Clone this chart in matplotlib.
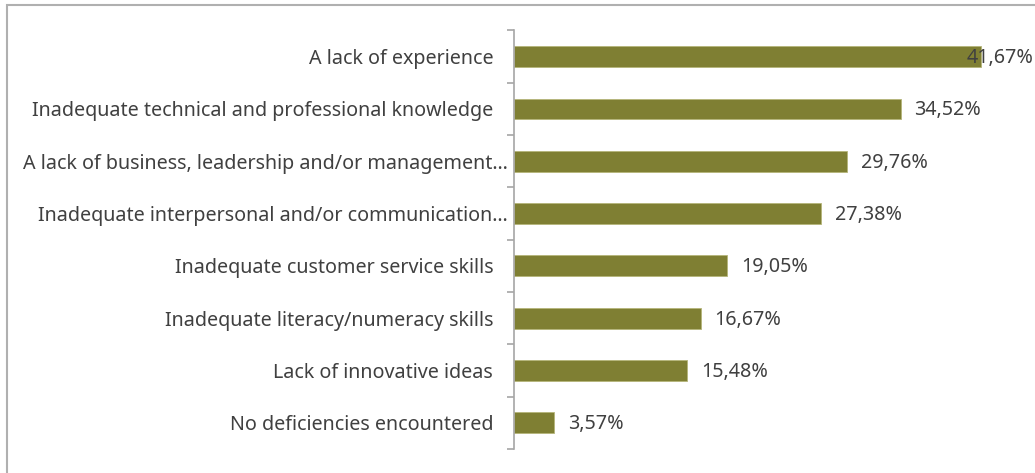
import matplotlib
matplotlib.use("Agg")
import matplotlib.pyplot as plt
from matplotlib.patches import Rectangle
from matplotlib.transforms import ScaledTranslation

categories = [
    "A lack of experience",
    "Inadequate technical and professional knowledge",
    "A lack of business, leadership and/or management\u2026",
    "Inadequate interpersonal and/or communication\u2026",
    "Inadequate customer service skills",
    "Inadequate literacy/numeracy skills",
    "Lack of innovative ideas",
    "No deficiencies encountered",
]
values = [41.67, 34.52, 29.76, 27.38, 19.05, 16.67, 15.48, 3.57]
value_labels = ["41,67%", "34,52%", "29,76%", "27,38%", "19,05%", "16,67%", "15,48%", "3,57%"]

BAR_COLOR = "#7f7f33"
TEXT_COLOR = "#404040"
AXIS_COLOR = "#a6a6a6"
FONT_SIZE = 14.2

plt.rcParams["font.family"] = ["Noto Sans", "DejaVu Sans"]

W, H, DPI = 1035, 473, 100
fig = plt.figure(figsize=(W / DPI, H / DPI), dpi=DPI)

left = 514 / W
right = 1035 / W
top = 1 - 30.5 / H
bottom = 1 - 449 / H
ax = fig.add_axes([left, bottom, right - left, top - bottom])

y = list(range(len(categories)))
ax.barh(y, values, height=0.4, color=BAR_COLOR, edgecolor="#b5b57a", linewidth=0.6)

ax.set_ylim(len(categories) - 0.5, -0.5)
ax.set_xlim(0, 521 / 11.2)

ax.set_yticks(y)
ax.set_yticklabels(categories, fontsize=FONT_SIZE, color=TEXT_COLOR)
ax.tick_params(axis="y", which="major", length=0, pad=15)
ax.set_yticks([i - 0.5 for i in range(len(categories) + 1)], minor=True)
ax.tick_params(axis="y", which="minor", length=5, width=1.2, color=AXIS_COLOR, direction="out")
ax.set_xticks([])

# truncated category names run closer to the axis
for lbl in ax.get_yticklabels():
    if lbl.get_text().endswith("\u2026"):
        lbl.set_transform(lbl.get_transform() + ScaledTranslation(15 / DPI, 0, fig.dpi_scale_trans))

for side in ("top", "right", "bottom"):
    ax.spines[side].set_visible(False)
ax.spines["left"].set_color(AXIS_COLOR)
ax.spines["left"].set_linewidth(1.2)

vmax = max(values)
for yi, v, lab in zip(y, values, value_labels):
    offset = -10 if v == vmax else 10
    ax.annotate(lab, xy=(v, yi), xytext=(offset, -1), textcoords="offset points",
                ha="left", va="center", fontsize=FONT_SIZE, color=TEXT_COLOR,
                annotation_clip=False)

# chart area frame (only top and left edges fall inside the canvas)
fig.patches.append(Rectangle((7 / W, -0.1), 1.2, (H - 5) / H + 0.1,
                             transform=fig.transFigure, fill=False,
                             edgecolor="#b0b0b0", linewidth=1.5))

fig.savefig("out.png", dpi=DPI)
